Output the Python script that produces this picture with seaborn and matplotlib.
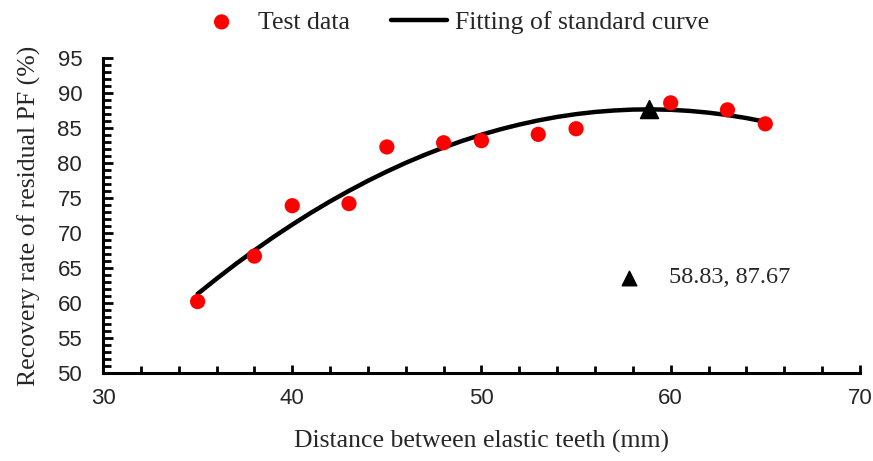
import matplotlib
matplotlib.use("Agg")
import matplotlib.pyplot as plt
import seaborn as sns
import pandas as pd
from matplotlib.ticker import MultipleLocator

# test data
distance = [35, 38, 40, 43, 45, 48, 50, 53, 55, 60, 63, 65]
recovery = [60.2, 66.7, 73.9, 74.2, 82.3, 82.9, 83.2, 84.1, 84.9, 88.6, 87.6, 85.6]

# fitted standard curve, read at every mm
curve_x = list(range(35, 66))
curve_y = [61.30, 63.46, 65.54, 67.52, 69.41, 71.20, 72.91, 74.52, 76.03, 77.46,
           78.79, 80.03, 81.17, 82.22, 83.18, 84.05, 84.82, 85.50, 86.09, 86.59,
           86.99, 87.30, 87.51, 87.64, 87.67, 87.61, 87.45, 87.20, 86.86, 86.43,
           85.90]

peak_x, peak_y = 58.83, 87.67
peak_label = "58.83, 87.67"

sns.set_style("white")
plt.rcParams["font.family"] = ["Liberation Serif", "DejaVu Serif"]
tick_font = ["Liberation Sans", "DejaVu Sans"]

pts = pd.DataFrame({"x": distance, "y": recovery})
fit = pd.DataFrame({"x": curve_x, "y": curve_y})

fig = plt.figure(figsize=(8.73, 4.61), dpi=100)
ax = fig.add_axes([0.118, 0.191, 0.867, 0.683])

sns.scatterplot(data=pts, x="x", y="y", ax=ax, color="#ff0000", s=120,
                edgecolor="none", label="Test data", zorder=3)
sns.lineplot(data=fit, x="x", y="y", ax=ax, color="black", linewidth=3.2,
             label="Fitting of standard curve", zorder=2)
ax.scatter([peak_x], [peak_y], marker="^", s=170, color="black", zorder=4)

# annotation of the peak
ax.scatter([57.8], [63.6], marker="^", s=110, color="black", zorder=4)
ax.text(59.9, 63.6, peak_label, fontsize=17.5, va="center", ha="left")

ax.set_xlim(30, 70)
ax.set_ylim(50, 95)
ax.xaxis.set_major_locator(MultipleLocator(10))
ax.xaxis.set_minor_locator(MultipleLocator(2))
ax.yaxis.set_major_locator(MultipleLocator(5))
ax.yaxis.set_minor_locator(MultipleLocator(1))
ax.tick_params(which="both", direction="in", width=2, color="black",
               bottom=True, left=True, top=False, right=False)
ax.tick_params(axis="y", which="major", length=7, labelsize=16, pad=15)
ax.tick_params(axis="y", which="minor", length=6)
ax.tick_params(axis="x", which="major", length=6, labelsize=16, pad=11)
ax.tick_params(axis="x", which="minor", length=5)
for lab in ax.get_xticklabels() + ax.get_yticklabels():
    lab.set_family(tick_font)

for side in ["top", "right"]:
    ax.spines[side].set_visible(False)
for side in ["left", "bottom"]:
    ax.spines[side].set_linewidth(2.2)
    ax.spines[side].set_color("black")

ax.set_xlabel("Distance between elastic teeth (mm)", fontsize=18.5, labelpad=15)
ax.set_ylabel("Recovery rate of residual PF (%)", fontsize=18.5, labelpad=12)

ax.legend(loc="lower center", bbox_to_anchor=(0.46, 1.045), ncol=2, frameon=False,
          fontsize=18.5, handlelength=2.2, columnspacing=1.6, handletextpad=0.3,
          borderaxespad=0)

fig.savefig("out.png", dpi=100)
